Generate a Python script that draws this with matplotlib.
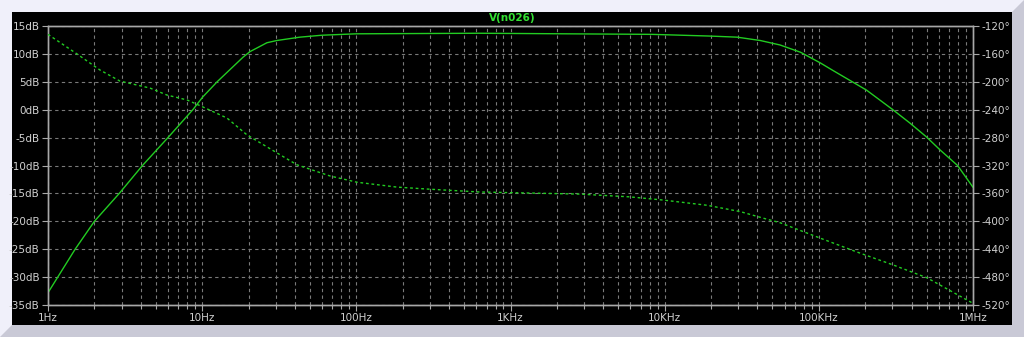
import numpy as np
import matplotlib
matplotlib.use("Agg")
import matplotlib.pyplot as plt
from matplotlib.patches import Polygon, Rectangle
from matplotlib.ticker import FixedLocator, NullFormatter

# magnitude trace (solid)
mag_freq = [1, 1.5, 2.0, 2.9, 4.1, 6.0, 8.7, 10.1, 12.5, 18.4, 20.4, 26.3, 30.5,
            43, 60, 100, 630, 8300, 19500, 29500, 41700, 56000, 76000, 102000,
            124000, 158000, 204000, 302000, 390000, 500000, 611000, 794000,
            1000000]
mag_db = [-32.8, -25.0, -20.0, -15.0, -10.0, -5.0, 0.0, 2.3, 5.0, 9.4, 10.4, 12.0, 12.4,
          13.0, 13.35, 13.6, 13.7, 13.5, 13.2, 13.0, 12.4, 11.6, 10.3, 8.4,
          7.0, 5.3, 3.5, 0.0, -2.4, -4.9, -7.2, -10.0,
          -13.9]

# phase trace (dashed)
phase_freq = [1, 1.54, 2.17, 2.93, 4.59, 5.91, 7.97, 10.1, 14.5, 19.5, 30.6, 41.2,
              67.5, 101, 184, 300, 634, 2820, 5960, 9750, 18800, 30800, 46100,
              56000, 101700, 176600, 307000, 503000, 970000, 1000000]
phase_deg = [-132, -160, -183, -199, -209, -219, -226, -236, -252, -276, -302, -319,
             -335, -344, -351, -354, -358, -361, -365, -369.5, -377, -386, -397,
             -402, -424, -444, -463, -481, -516, -518]

db_ticks = [15, 10, 5, 0, -5, -10, -15, -20, -25, -30, -35]
deg_ticks = [-120, -160, -200, -240, -280, -320, -360, -400, -440, -480, -520]
freq_ticks = [1, 10, 100, 1e3, 1e4, 1e5, 1e6]
freq_labels = ["1Hz", "10Hz", "100Hz", "1KHz", "10KHz", "100KHz", "1MHz"]
title = "V(n026)"

W, H = 1024, 337
green = "#22cc22"
grid_col = "#7a7a7a"
frame_col = "#a8a8a8"
text_col = "#d0d0d0"

fig = plt.figure(figsize=(W / 100, H / 100), dpi=100)
fig.patch.set_facecolor("#f0f0fa")


def px(x, y):
    return (x / W, 1 - y / H)


# bevelled frame round the plot panel
fig.add_artist(Polygon([px(0, 337), px(12, 325), px(1012, 325), px(1012, 12),
                        px(1024, 0), px(1024, 337)],
                       closed=True, transform=fig.transFigure,
                       facecolor="#c9c9d6", edgecolor="none", zorder=0))
fig.add_artist(Rectangle(px(12, 325), 1000 / W, 313 / H, transform=fig.transFigure,
                         facecolor="black", edgecolor="none", zorder=0))

ax = fig.add_axes([48 / W, 1 - 305 / H, 925 / W, 279 / H])
ax.set_facecolor("black")
ax.set_xscale("log")
ax.set_xlim(1, 1e6)
ax.set_ylim(-35, 15)

ax2 = ax.twinx()
ax2.set_ylim(-520, -120)

ax.plot(mag_freq, mag_db, color=green, lw=1.0, zorder=3)
ax2.plot(phase_freq, phase_deg, color=green, lw=1.0, ls=(0, (2, 2)), zorder=3)

# grid
ax.xaxis.set_major_locator(FixedLocator(freq_ticks))
minors = [m * 10 ** d for d in range(6) for m in range(2, 10)]
ax.xaxis.set_minor_locator(FixedLocator(minors))
ax.xaxis.set_minor_formatter(NullFormatter())
ax.set_xticklabels(freq_labels)
ax.set_yticks(db_ticks)
ax.set_yticklabels([f"{t}dB" for t in db_ticks])
ax2.set_yticks(deg_ticks)
ax2.set_yticklabels([f"{t}\u00b0" for t in deg_ticks])

ax.grid(True, which="both", axis="x", color=grid_col, lw=0.8, ls=(0, (3, 3)))
ax.grid(True, which="major", axis="y", color=grid_col, lw=0.8, ls=(0, (3, 3)))
ax.set_axisbelow(True)

for a in (ax, ax2):
    for s in a.spines.values():
        s.set_color(frame_col)
        s.set_linewidth(1.0)

ax.tick_params(axis="both", which="major", colors=frame_col, labelcolor=text_col,
               labelsize=7.5, length=4, width=0.8, pad=2)
ax.tick_params(axis="x", which="minor", colors=frame_col, length=3, width=0.8)
ax2.tick_params(axis="y", colors=frame_col, labelcolor=text_col,
                labelsize=7.5, length=4, width=0.8, pad=2)

fig.text(512 / W, 1 - 18 / H, title, color="#33e033", fontsize=7.5,
         fontweight="bold", ha="center", va="center")

fig.savefig("out.png", dpi=100, facecolor=fig.get_facecolor())
